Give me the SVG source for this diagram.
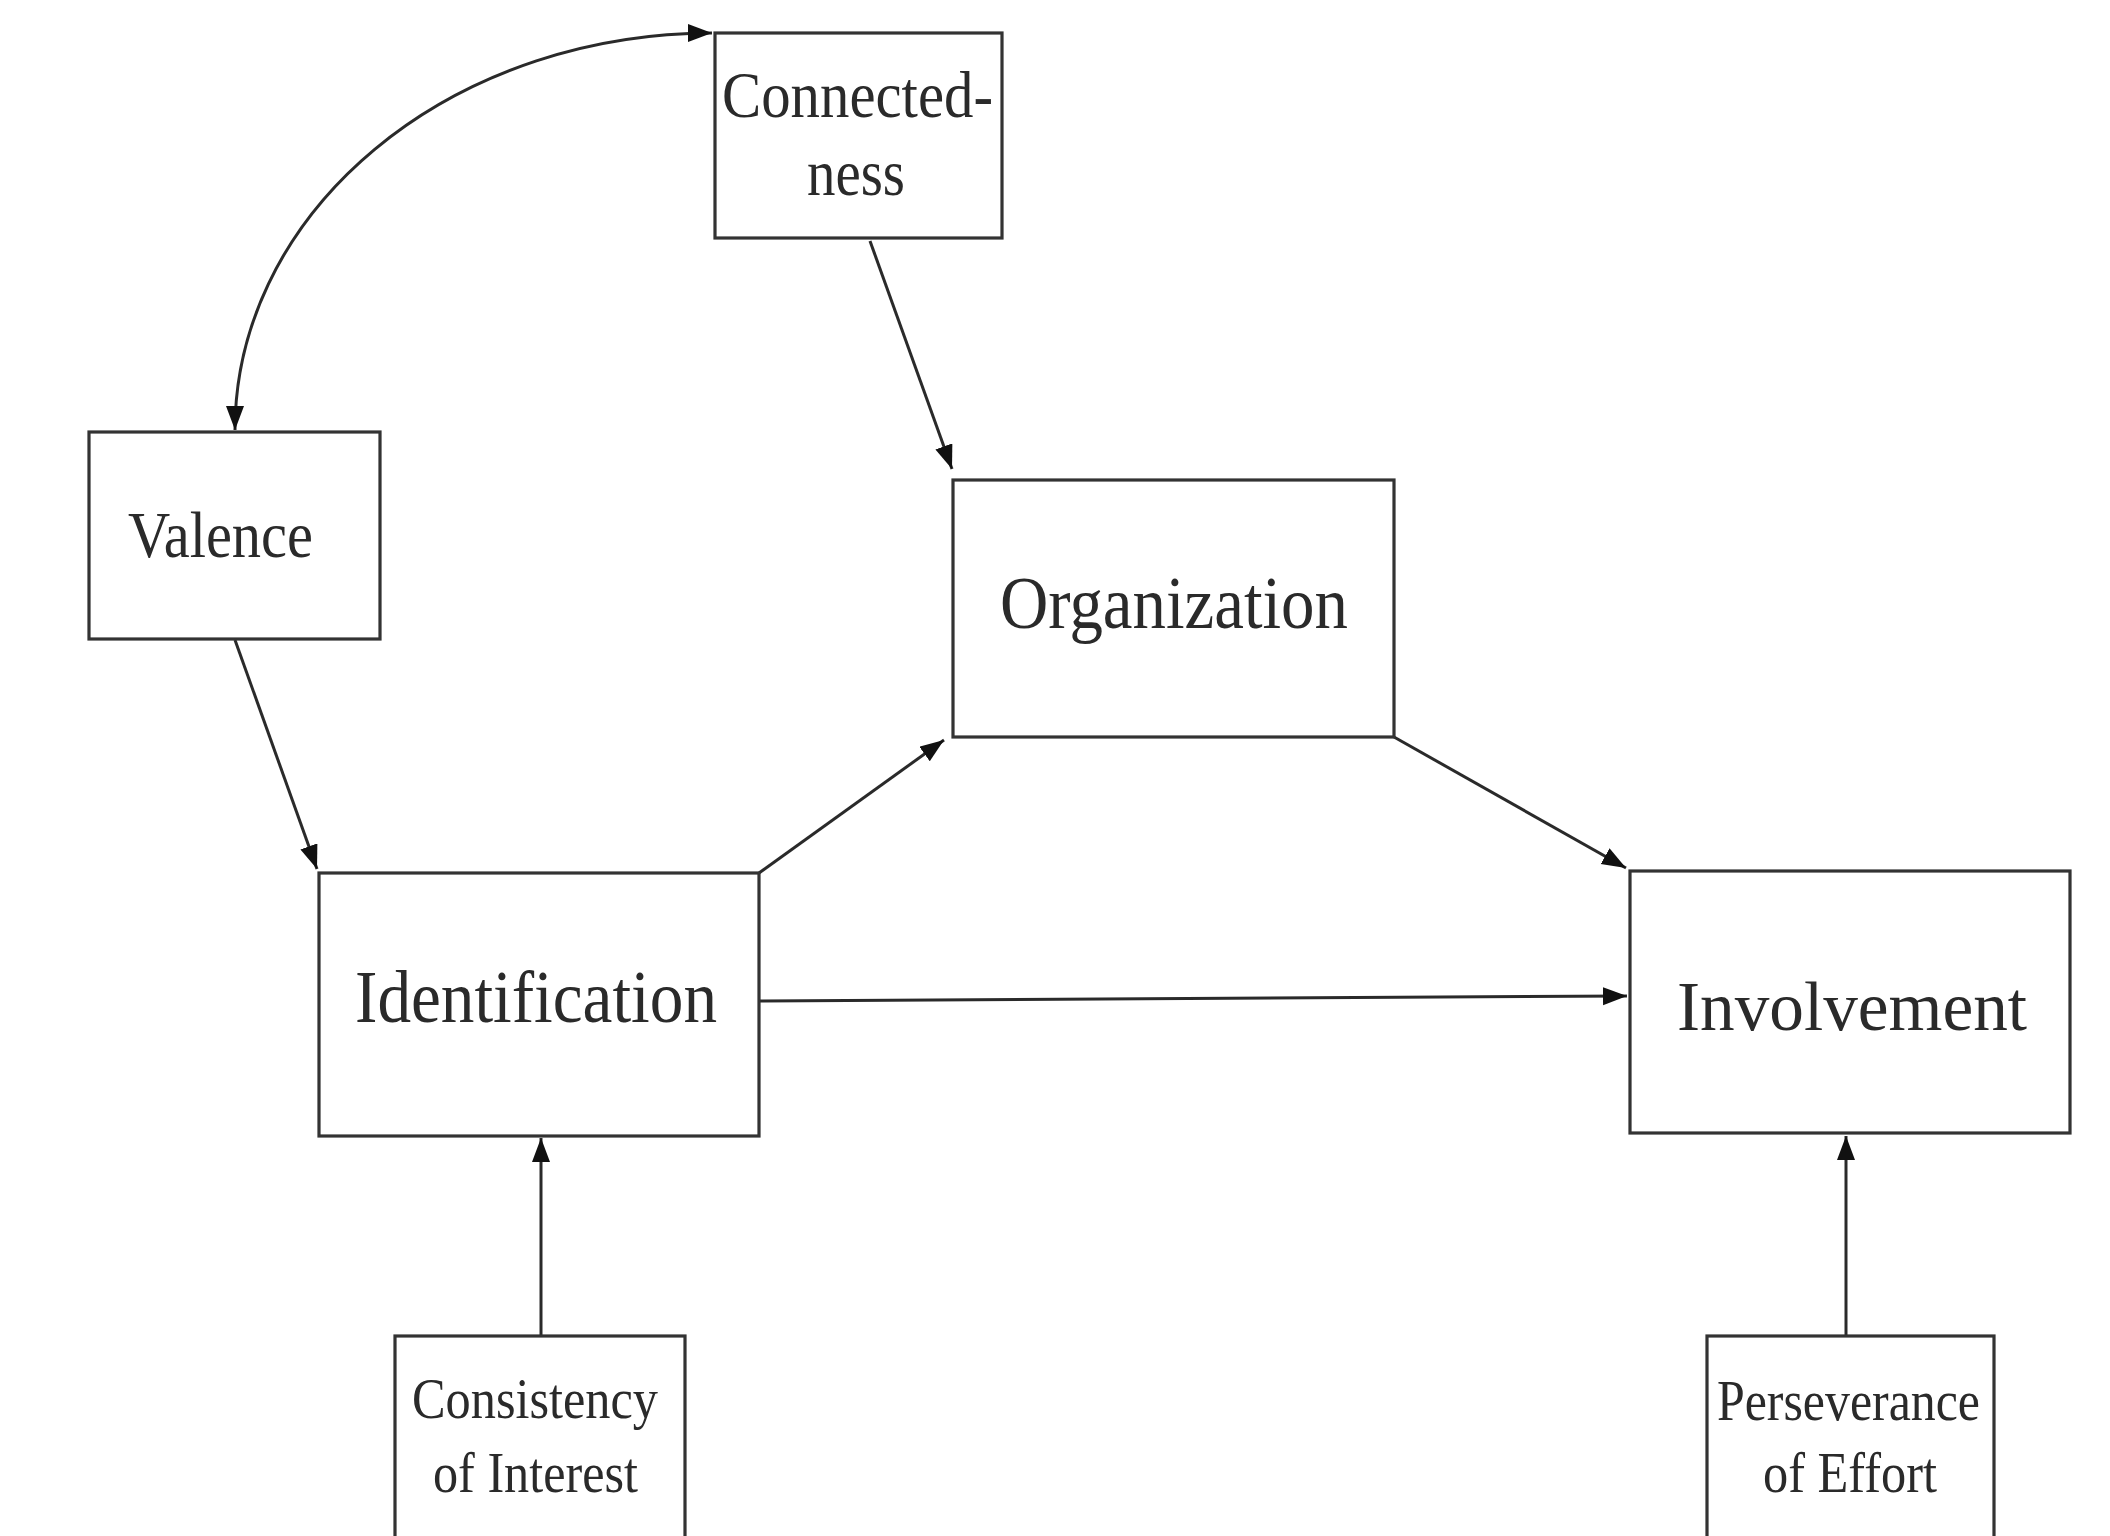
<svg xmlns="http://www.w3.org/2000/svg" width="2110" height="1536" viewBox="0 0 2110 1536">
<style>
.box{fill:#ffffff;stroke:#333333;stroke-width:3.2}
.lbl{font-family:"Liberation Serif","Times New Roman",serif;fill:#2a2a2a}
.edge{fill:none;stroke:#2a2a2a;stroke-width:3}
</style>
<defs>
<marker id="ah" markerUnits="userSpaceOnUse" markerWidth="26" markerHeight="20" refX="24" refY="9" orient="auto-start-reverse">
<path d="M0,0 L24,9 L0,18 z" fill="#111111"/>
</marker>
</defs>
<rect width="2110" height="1536" fill="#ffffff"/>
<g id="connectors">
<path class="edge" d="M235,430 A477,397 0 0 1 712,33" marker-start="url(#ah)" marker-end="url(#ah)"/>
<path class="edge" d="M870,241 L952,469" marker-end="url(#ah)"/>
<path class="edge" d="M235,640 L317,869" marker-end="url(#ah)"/>
<path class="edge" d="M759,873 L944,740" marker-end="url(#ah)"/>
<path class="edge" d="M1394,737 L1626,868" marker-end="url(#ah)"/>
<path class="edge" d="M759,1001 L1627,996" marker-end="url(#ah)"/>
<path class="edge" d="M541,1336 L541,1138" marker-end="url(#ah)"/>
<path class="edge" d="M1846,1336 L1846,1136" marker-end="url(#ah)"/>
</g>
<g id="connectedness">
<rect class="box" x="715" y="33" width="287" height="205"/>
<text class="lbl" x="722" y="117" font-size="66" textLength="271" lengthAdjust="spacingAndGlyphs">Connected-</text>
<text class="lbl" x="807" y="195" font-size="66" textLength="98" lengthAdjust="spacingAndGlyphs">ness</text>
</g>
<g id="valence">
<rect class="box" x="89" y="432" width="291" height="207"/>
<text class="lbl" x="128" y="557" font-size="66" textLength="185" lengthAdjust="spacingAndGlyphs">Valence</text>
</g>
<g id="organization">
<rect class="box" x="953" y="480" width="441" height="257"/>
<text class="lbl" x="1000" y="628" font-size="75" textLength="348" lengthAdjust="spacingAndGlyphs">Organization</text>
</g>
<g id="identification">
<rect class="box" x="319" y="873" width="440" height="263"/>
<text class="lbl" x="355" y="1022" font-size="75" textLength="362" lengthAdjust="spacingAndGlyphs">Identification</text>
</g>
<g id="involvement">
<rect class="box" x="1630" y="871" width="440" height="262"/>
<text class="lbl" x="1677" y="1030" font-size="69" textLength="350" lengthAdjust="spacingAndGlyphs" fill="#111111">Involvement</text>
</g>
<g id="consistency">
<rect class="box" x="395" y="1336" width="290" height="220"/>
<text class="lbl" x="412" y="1418" font-size="57" textLength="246" lengthAdjust="spacingAndGlyphs">Consistency</text>
<text class="lbl" x="433" y="1492" font-size="57" textLength="205" lengthAdjust="spacingAndGlyphs">of Interest</text>
</g>
<g id="perseverance">
<rect class="box" x="1707" y="1336" width="287" height="220"/>
<text class="lbl" x="1717" y="1420" font-size="57" textLength="263" lengthAdjust="spacingAndGlyphs">Perseverance</text>
<text class="lbl" x="1763" y="1492" font-size="57" textLength="174" lengthAdjust="spacingAndGlyphs">of Effort</text>
</g>
</svg>
